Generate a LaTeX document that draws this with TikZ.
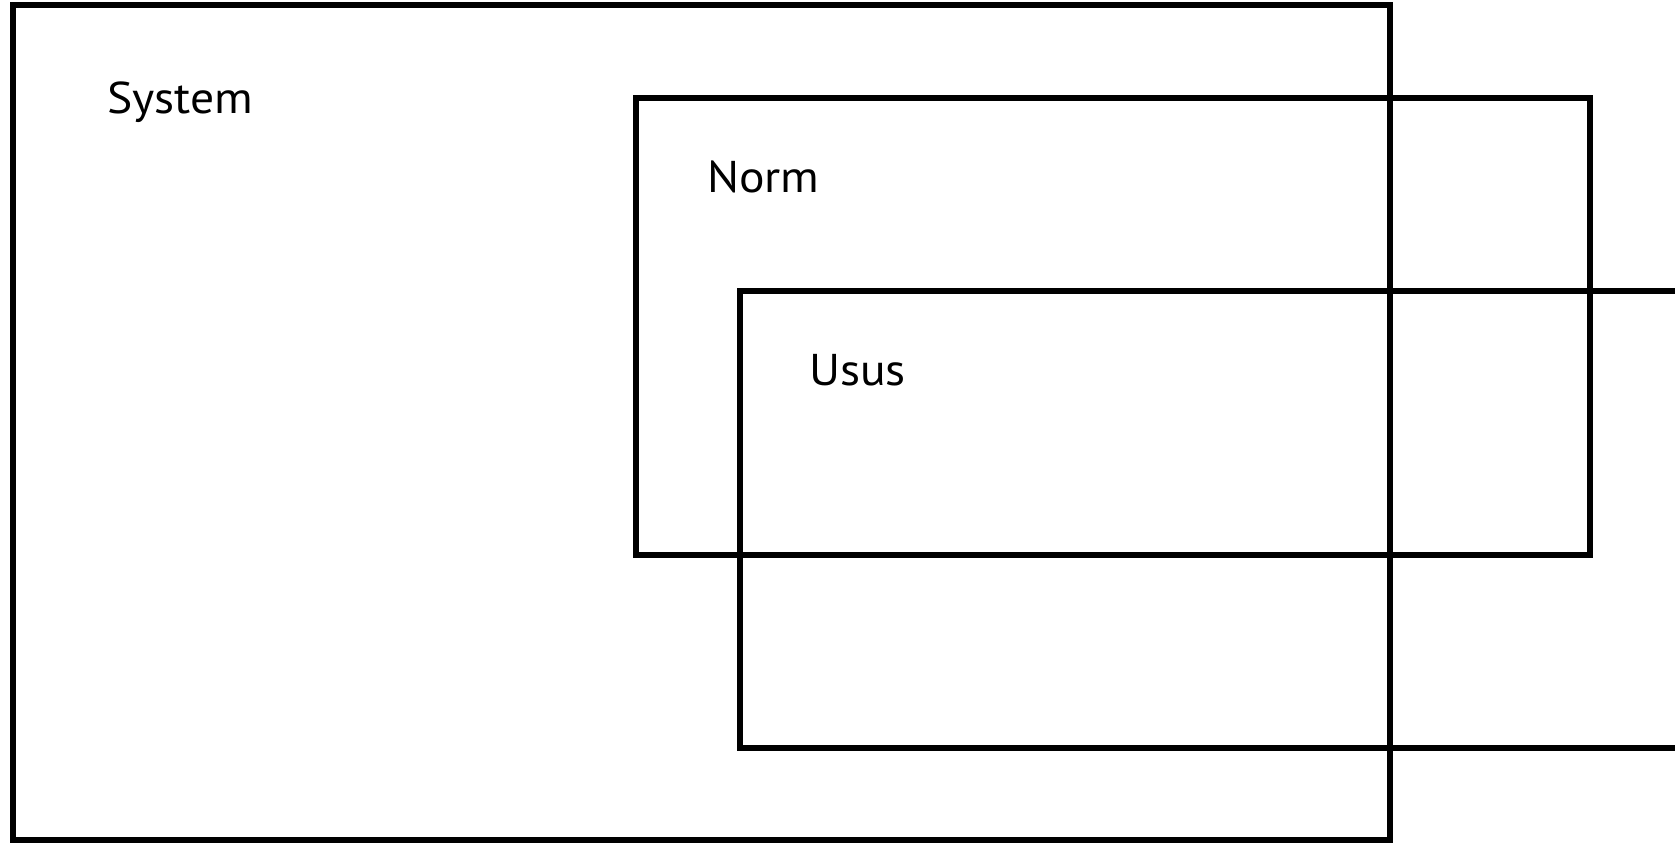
\documentclass[tikz,border=0pt]{standalone}
\usepackage{fontspec}
\setmainfont{PT Sans}[FakeStretch=1.07]
\tikzset{
  box/.style={draw=black, line width=6pt, inner sep=0pt, outer sep=0pt, anchor=north west, fill=none},
  lbl/.style={anchor=base west, inner sep=0pt, font=\fontsize{44.5}{52}\selectfont}
}
\begin{document}
\begin{tikzpicture}[x=1pt,y=-1pt]
\useasboundingbox (0,0) rectangle (1675,843);
\clip (0,0) rectangle (1675,843);
\node[box, minimum width=1377.3pt, minimum height=834.7pt] (system) at (12.7,5.3) {};
\node[box, minimum width=953.5pt, minimum height=456.5pt] (norm) at (636,98) {};
\node[box, minimum width=1000pt, minimum height=457pt] (usus) at (740,291) {};
\node[lbl] (tsystem) at (107,113) {System};
\node[lbl] (tnorm) at (707,192) {Norm};
\node[lbl] (tusus) at (809,385) {Usus};
\end{tikzpicture}
\end{document}
